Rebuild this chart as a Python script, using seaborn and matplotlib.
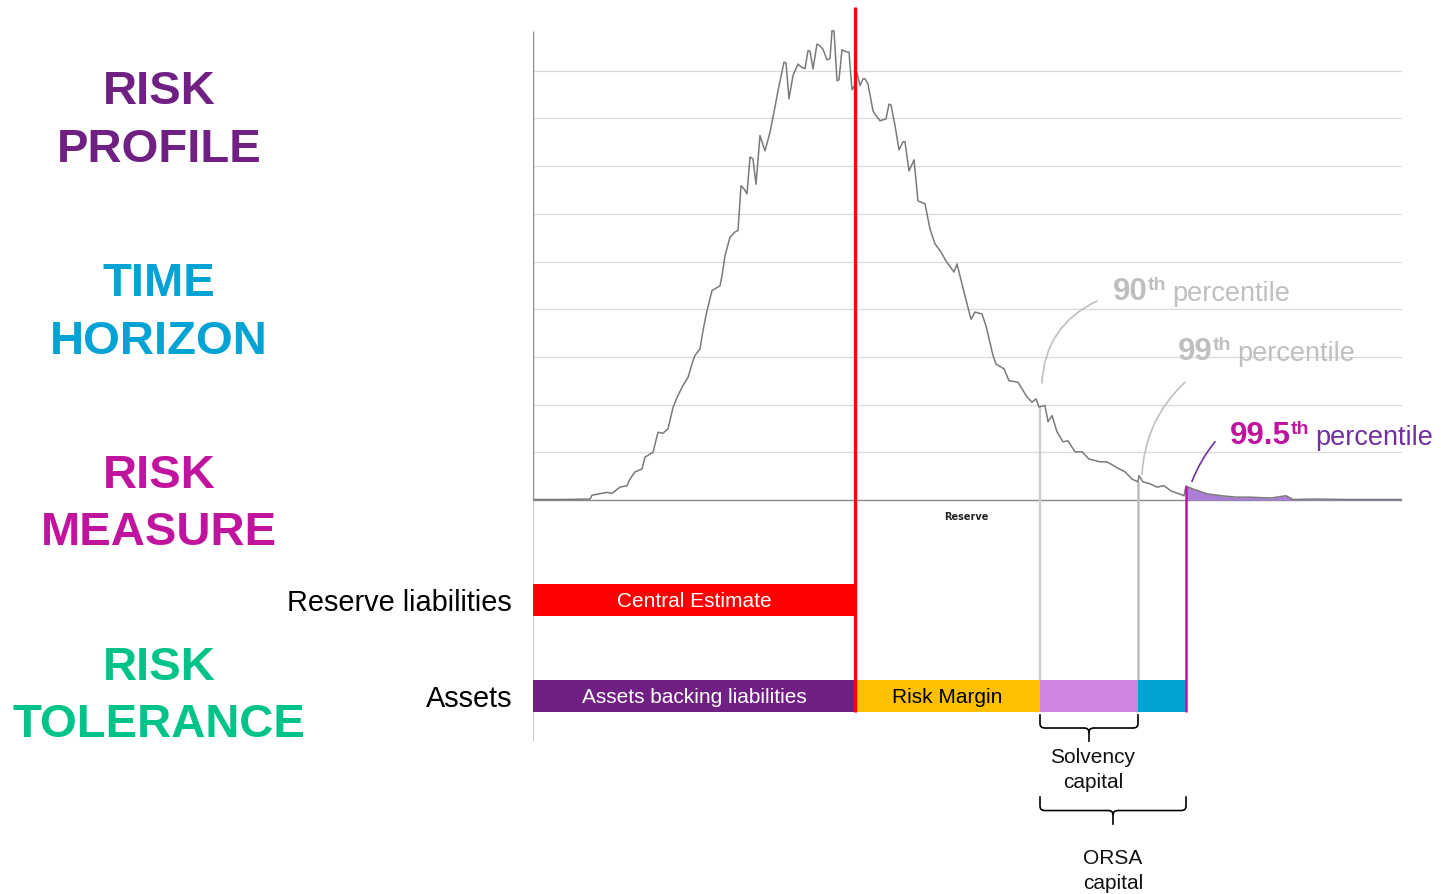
import numpy as np
import matplotlib
matplotlib.use("Agg")
import matplotlib.pyplot as plt
import seaborn as sns
from matplotlib.path import Path
from matplotlib.patches import PathPatch

# Simulated reserve distribution (reserve on x, frequency on y)
reserve = [0, 27, 57, 59, 74, 79, 87, 94, 97, 102, 109, 112, 120, 125, 130, 135,
           140, 144, 150, 155, 160, 162, 167, 170, 174, 179, 183, 187, 189, 192,
           197, 202, 205, 208, 211, 214, 217, 220, 223, 227, 232, 237, 242, 245,
           251, 253, 256, 260, 265, 268, 272, 275, 277, 280, 284, 287, 290, 294,
           297, 299, 301, 304, 306, 309, 314, 316, 319, 322, 324, 327, 330, 332,
           335, 340, 342, 347, 353, 356, 358, 362, 366, 370, 372, 376, 379, 381,
           385, 392, 397, 402, 408, 413, 421, 424, 431, 438, 442, 449, 453, 460,
           463, 471, 476, 485, 494, 499, 503, 506, 512, 515, 519, 524, 530, 535,
           542, 549, 556, 567, 574, 583, 592, 599, 605, 606, 610, 617, 624, 631,
           638, 646, 651, 653, 660, 674, 688, 703, 717, 738, 753, 760, 781, 817,
           853, 869]
frequency = [0.1, 0.1, 0.2, 1.0, 1.6, 1.4, 2.7, 3.0, 4.4, 5.9, 6.5, 9.0, 10.0, 14.2,
             14.0, 14.9, 19.4, 21.5, 24.0, 25.7, 29.2, 30.3, 31.7, 35.5, 39.7, 43.9,
             44.4, 44.9, 47.0, 51.2, 55.1, 56.2, 56.5, 65.9, 65.2, 64.2, 71.9, 71.5,
             66.2, 76.4, 73.2, 77.1, 82.4, 85.8, 91.8, 91.6, 84.1, 89.0, 91.4, 90.8,
             90.4, 94.2, 94.1, 90.4, 95.6, 95.2, 94.5, 92.3, 92.5, 98.4, 98.3, 87.9,
             88.1, 94.4, 93.9, 93.9, 86.0, 87.0, 89.5, 86.9, 88.3, 88.3, 87.2, 81.6,
             80.9, 79.5, 79.9, 83.0, 82.8, 78.5, 73.4, 75.1, 75.1, 69.0, 70.4, 71.3,
             62.7, 62.1, 56.8, 53.7, 52.0, 50.1, 47.8, 49.5, 43.6, 37.9, 39.4, 39.0,
             36.5, 30.3, 28.5, 27.5, 25.0, 24.7, 21.6, 20.5, 21.2, 19.5, 19.8, 16.4,
             17.7, 14.3, 12.2, 12.4, 10.1, 10.1, 8.6, 8.0, 8.0, 6.9, 5.9, 4.4, 3.8,
             5.1, 3.8, 3.4, 2.7, 3.0, 1.9, 1.3, 0.9, 2.9, 2.3, 1.3, 0.9, 0.6, 0.6,
             0.4, 0.9, 0.1, 0.2, 0.1, 0.1, 0.1]

central_estimate = 322
p90 = 507
p99 = 605
p995 = 653

grid_levels = [10, 20, 30, 40, 50, 60, 70, 80, 90]

row_labels = ["Reserve liabilities", "Assets"]
liability_label = "Central Estimate"
asset_labels = ["Assets backing liabilities", "Risk Margin", "", ""]
asset_edges = [0, central_estimate, p90, p99, p995]
asset_colors = ["#702082", "#FFC000", "#CD85DF", "#00A3D3"]
asset_text_colors = ["white", "black", "black", "black"]

headings = [("RISK", "PROFILE"), ("TIME", "HORIZON"),
            ("RISK", "MEASURE"), ("RISK", "TOLERANCE")]
heading_colors = ["#702082", "#00A3D3", "#C0139E", "#00C389"]

percentile_numbers = ["90", "99", "99.5"]

sns.set_theme(style="white")
plt.rcParams["font.family"] = ["Liberation Sans", "DejaVu Sans"]

W, H = 1441, 895
fig = plt.figure(figsize=(W / 100, H / 100), dpi=100)

# axes geometry (pixel layout)
ax_left, ax_right = 533, 1402
base_px, unit_px = 501, 4.77
y_lo, y_hi = -52, 104.5
top_px = base_px - y_hi * unit_px
bot_px = base_px - y_lo * unit_px
ax = fig.add_axes([ax_left / W, 1 - bot_px / H,
                   (ax_right - ax_left) / W, (bot_px - top_px) / H])
ax.set_xlim(0, 869)
ax.set_ylim(y_lo, y_hi)
ax.set_axis_off()

# gridlines and baseline
for g in grid_levels:
    ax.axhline(g, color="#DADADA", lw=0.9, zorder=0)
ax.axhline(0, color="#8A8A8A", lw=1.0, zorder=1)
ax.vlines(0, 0, 98.3, color="#8C8C8C", lw=1.0, zorder=1)
ax.vlines(0, -50.5, 0, color="#C8C8C8", lw=1.4, zorder=1)

# distribution curve
xs = np.array(reserve, dtype=float)
ys = np.array(frequency, dtype=float)
ax.fill_between(xs, ys, where=xs >= p995, color="#A97FD9", lw=0, zorder=2)
sns.lineplot(x=xs, y=ys, ax=ax, color="#7A7A7A", lw=1.1, sort=False,
             estimator=None, zorder=3)

ax.text(433, -3.4, "Reserve", fontsize=7, fontweight="bold", color="#222222",
        ha="center", va="center", family=["DejaVu Sans"])

# bars
bar_h = 6.7
y_liab, y_asset = -21.0, -41.1
bar_bottom = y_asset - bar_h / 2
ax.barh(y_liab, central_estimate, left=0, height=bar_h, color="#FF0000",
        lw=0, zorder=2)
ax.text(central_estimate / 2, y_liab, liability_label, color="white",
        fontsize=15, ha="center", va="center", zorder=4)
lefts = asset_edges[:-1]
widths = np.diff(asset_edges)
ax.barh([y_asset] * len(widths), widths, left=lefts, height=bar_h,
        color=asset_colors, lw=0, zorder=2)
for l, w, lab, tc in zip(lefts, widths, asset_labels, asset_text_colors):
    if lab:
        ax.text(l + w / 2, y_asset, lab, color=tc, fontsize=15,
                ha="center", va="center", zorder=4)

for lab, yy in zip(row_labels, [y_liab, y_asset]):
    ax.text(-21, yy - 0.4, lab, fontsize=20.8, color="black", ha="right",
            va="center", clip_on=False)

# percentile markers
def curve_at(x):
    return float(np.interp(x, xs, ys))

ax.vlines(central_estimate, bar_bottom, 103.4, color="#FF0000", lw=2.4,
          zorder=5, clip_on=False)
ax.vlines(p90, bar_bottom, curve_at(p90), color="#CACACA", lw=1.6, zorder=1)
ax.vlines(p99, bar_bottom, curve_at(p99), color="#BEBEBE", lw=1.8, zorder=1)
ax.vlines(p995, bar_bottom, curve_at(p995), color="#C0139E", lw=1.8, zorder=5)

# percentile labels: number, superscript "th", then "percentile"
def pct_label(x, y, num, num_color, word_color):
    t1 = ax.text(x, y, num, color=num_color, fontsize=22.5, fontweight="bold",
                 ha="left", va="baseline", clip_on=False)
    t2 = ax.annotate("th", xy=(1, 1), xycoords=t1, xytext=(0, 0),
                     textcoords="offset points", ha="left", va="top",
                     fontsize=14, fontweight="bold", color=num_color)
    ax.annotate("percentile", xy=(1, 0), xycoords=(t2, t1), xytext=(4, 0),
                textcoords="offset points", ha="left", va="bottom",
                fontsize=19.5, color=word_color, annotation_clip=False)

pct_label(580, 42.1, percentile_numbers[0], "#BFBFBF", "#BFBFBF")
pct_label(645, 29.6, percentile_numbers[1], "#BFBFBF", "#BFBFBF")
pct_label(697, 11.9, percentile_numbers[2], "#C0139E", "#7030A0")

def leader(start, end, rad, color):
    ax.annotate("", xy=end, xytext=start,
                arrowprops=dict(arrowstyle="-", color=color, lw=1.2,
                                shrinkA=0, shrinkB=0,
                                connectionstyle=f"arc3,rad={rad}"))

leader((564, 41.7), (p90 + 2, curve_at(p90) + 5), 0.3, "#BFBFBF")
leader((652, 24.7), (p99 + 4, curve_at(p99) + 1.6), 0.2, "#BFBFBF")
leader((682, 12.2), (p995 + 6, curve_at(p995) + 1.0), 0.08, "#7030A0")

# curly braces under the capital segments
def brace(x0, x1, ytop, ymid, ybot, rx=5.0, ry=0.9):
    xc = (x0 + x1) / 2
    verts = [(x0, ytop), (x0, ymid + ry), (x0, ymid), (x0 + rx, ymid),
             (xc - rx, ymid), (xc, ymid), (xc, ymid - ry), (xc, ybot),
             (x1, ytop), (x1, ymid + ry), (x1, ymid), (x1 - rx, ymid),
             (xc + rx, ymid), (xc, ymid), (xc, ymid - ry)]
    codes = [Path.MOVETO, Path.LINETO, Path.CURVE3, Path.CURVE3,
             Path.LINETO, Path.CURVE3, Path.CURVE3, Path.LINETO,
             Path.MOVETO, Path.LINETO, Path.CURVE3, Path.CURVE3,
             Path.LINETO, Path.CURVE3, Path.CURVE3]
    ax.add_patch(PathPatch(Path(verts, codes), fill=False, ec="black",
                           lw=1.2, clip_on=False))
    return xc

xc1 = brace(p90, p99, -44.9, -47.8, -50.7)
ax.text(xc1 + 4, -56.4, "Solvency\ncapital", fontsize=15, ha="center",
        va="center", linespacing=1.45, color="#111111", clip_on=False)
xc2 = brace(p90, p995, -62.1, -65.1, -68.1)
ax.text(xc2, -77.5, "ORSA\ncapital", fontsize=15, ha="center",
        va="center", linespacing=1.4, color="#111111", clip_on=False)

# framework headings on the left
baselines = [(104, 162), (296, 354), (488, 545), (680, 737)]
for (w1, w2), col, (b1, b2) in zip(headings, heading_colors, baselines):
    for word, b in ((w1, b1), (w2, b2)):
        fig.text(159 / W, 1 - b / H, word, color=col, fontsize=34,
                 fontweight="bold", ha="center", va="baseline")

fig.savefig("out.png", dpi=100)
